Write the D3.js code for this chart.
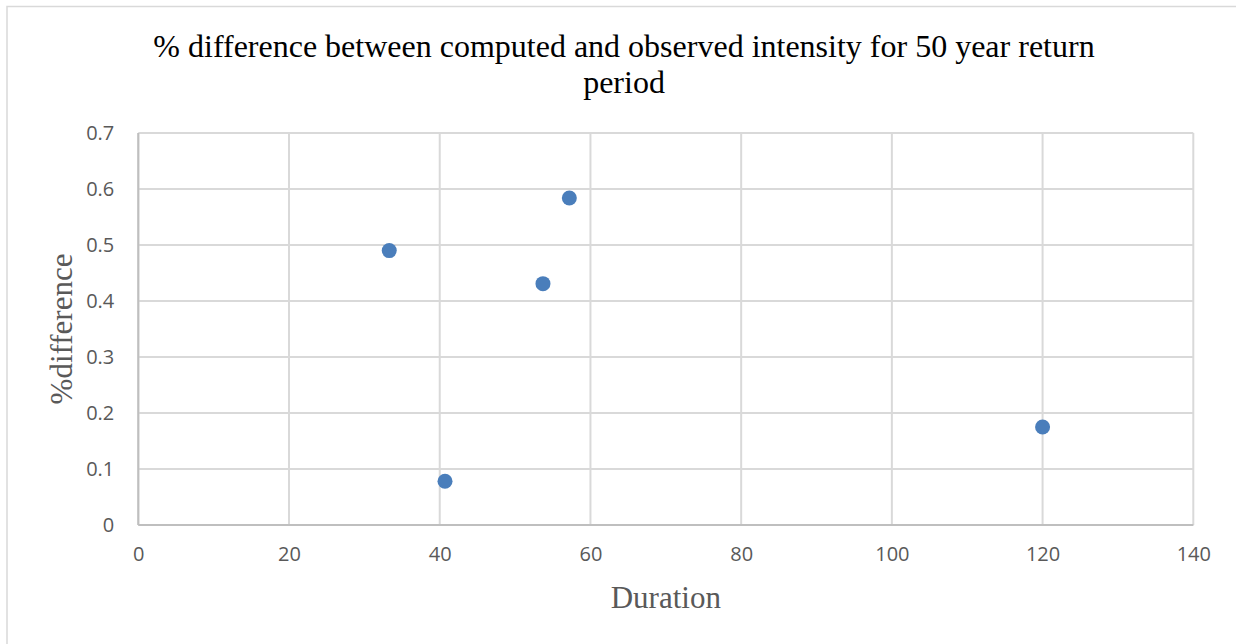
<!DOCTYPE html>
<html>
<head>
<meta charset="utf-8">
<script src="https://cdn.jsdelivr.net/npm/d3@7"></script>
<style>
  html, body { margin: 0; padding: 0; background: #fff; }
  svg { display: block; }
</style>
</head>
<body>
<svg id="chart" width="1236" height="644"></svg>
<script>
// Duration vs % difference (50 year return period)
const durations = [33.3, 40.7, 53.7, 57.2, 120];
const pctDifference = [0.49, 0.078, 0.431, 0.584, 0.175];
const xTicks = [0, 20, 40, 60, 80, 100, 120, 140];
const yTicks = [0, 0.1, 0.2, 0.3, 0.4, 0.5, 0.6, 0.7];
const titleLines = ["% difference between computed and observed intensity for 50 year return", "period"];
const xLabel = "Duration";
const yLabel = "%difference";

const svg = d3.select("#chart");
const W = 1236, H = 644;
const plot = { left: 138.3, right: 1193.3, top: 133, bottom: 525 };

// outer chart frame
svg.append("rect")
  .attr("x", 7).attr("y", 6.5)
  .attr("width", W + 10).attr("height", H + 10)
  .attr("fill", "#fff").attr("stroke", "#d9d9d9").attr("stroke-width", 1.5);

const x = d3.scaleLinear().domain([0, 140]).range([plot.left, plot.right]);
const y = d3.scaleLinear().domain([0, 0.7]).range([plot.bottom, plot.top]);

// gridlines
const grid = svg.append("g");
grid.selectAll("line.v").data(xTicks).join("line")
  .attr("x1", d => x(d)).attr("x2", d => x(d))
  .attr("y1", plot.top).attr("y2", plot.bottom)
  .attr("stroke", "#d9d9d9").attr("stroke-width", 2);
grid.selectAll("line.h").data(yTicks).join("line")
  .attr("x1", plot.left).attr("x2", plot.right)
  .attr("y1", d => y(d)).attr("y2", d => y(d))
  .attr("stroke", "#d9d9d9").attr("stroke-width", 2);

// axis lines
svg.append("line").attr("x1", plot.left).attr("x2", plot.left)
  .attr("y1", plot.top).attr("y2", plot.bottom)
  .attr("stroke", "#bfbfbf").attr("stroke-width", 2);
svg.append("line").attr("x1", plot.left).attr("x2", plot.right)
  .attr("y1", plot.bottom).attr("y2", plot.bottom)
  .attr("stroke", "#bfbfbf").attr("stroke-width", 2);

// axes (labels only)
const tickFont = "'Open Sans', 'Noto Sans', sans-serif";
const xAxis = svg.append("g").attr("transform", `translate(0,${plot.bottom})`)
  .call(d3.axisBottom(x).tickValues(xTicks).tickSize(0).tickPadding(22).tickFormat(d3.format("d")));
const yAxis = svg.append("g").attr("transform", `translate(${plot.left},0)`)
  .call(d3.axisLeft(y).tickValues(yTicks).tickSize(0).tickPadding(24).tickFormat(d => d === 0 ? "0" : d3.format(".1f")(d)));
[xAxis, yAxis].forEach(g => {
  g.select(".domain").remove();
  g.selectAll("text").attr("fill", "#595959")
    .style("font-family", tickFont).style("font-size", "20px");
});

// data points
svg.append("g").selectAll("circle")
  .data(durations.map((d, i) => [d, pctDifference[i]]))
  .join("circle")
  .attr("cx", d => x(d[0])).attr("cy", d => y(d[1]))
  .attr("r", 7.5).attr("fill", "#4a7ebb");

// title
const serif = "'Liberation Serif', 'Times New Roman', serif";
svg.append("text")
  .attr("x", 624).attr("y", 57)
  .attr("text-anchor", "middle")
  .style("font-family", serif).style("font-size", "32px").attr("fill", "#000")
  .selectAll("tspan").data(titleLines).join("tspan")
  .attr("x", 624).attr("dy", (d, i) => i === 0 ? 0 : 36)
  .text(d => d);

// axis titles
svg.append("text")
  .attr("x", (plot.left + plot.right) / 2).attr("y", 608)
  .attr("text-anchor", "middle")
  .style("font-family", serif).style("font-size", "31px").attr("fill", "#595959")
  .text(xLabel);
svg.append("text")
  .attr("transform", `translate(72,${(plot.top + plot.bottom) / 2}) rotate(-90)`)
  .attr("text-anchor", "middle")
  .style("font-family", serif).style("font-size", "31px").attr("fill", "#595959")
  .text(yLabel);
</script>
</body>
</html>
